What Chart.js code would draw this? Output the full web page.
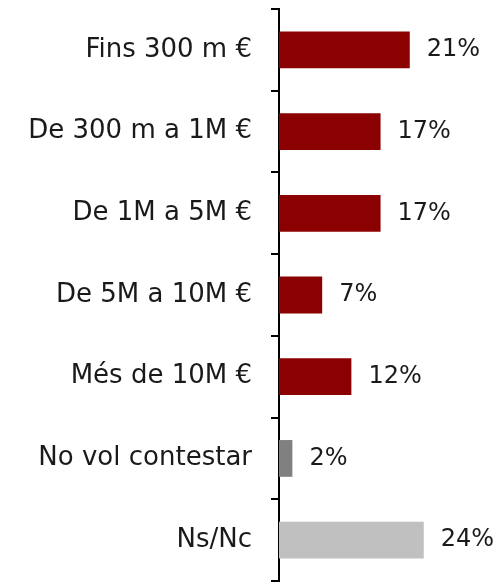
<!DOCTYPE html>
<html>
<head>
<meta charset="utf-8">
<script src="https://cdn.jsdelivr.net/npm/chart.js@4"></script>
<style>
  html, body { margin: 0; padding: 0; background: #fff; }
  #wrap { width: 501px; height: 582px; }
</style>
</head>
<body>
<div id="wrap"><canvas id="myChart"></canvas></div>
<script>
let categories = ['Fins 300 m €', 'De 300 m a 1M €', 'De 1M a 5M €', 'De 5M a 10M €', 'Més de 10M €', 'No vol contestar', 'Ns/Nc'];
let values = [21.5, 16.7, 16.7, 7.1, 11.9, 2.2, 23.8];
let valueLabels = ['21%', '17%', '17%', '7%', '12%', '2%', '24%'];

// draws the percentage text just right of each bar
const barLabels = {
  id: 'barLabels',
  afterDatasetsDraw(chart) {
    const ctx = chart.ctx;
    const meta = chart.getDatasetMeta(0);
    ctx.save();
    ctx.font = '24px "DejaVu Sans"';
    ctx.fillStyle = '#1a1a1a';
    ctx.textAlign = 'left';
    ctx.textBaseline = 'middle';
    meta.data.forEach((bar, i) => {
      ctx.fillText(valueLabels[i], bar.x + 17, bar.y);
    });
    ctx.restore();
  }
};

let chart = new Chart(document.getElementById('myChart'), {
  type: 'bar',
  data: {
    labels: categories,
    datasets: [{
      data: values,
      backgroundColor: ['#8b0000', '#8b0000', '#8b0000', '#8b0000', '#8b0000', '#808080', '#c0c0c0'],
      categoryPercentage: 1,
      barPercentage: 0.45
    }]
  },
  options: {
    indexAxis: 'y',
    responsive: true,
    maintainAspectRatio: false,
    animation: false,
    layout: { padding: { top: 9, bottom: 1, left: 0, right: 0 } },
    plugins: { legend: { display: false }, tooltip: { enabled: false } },
    scales: {
      x: { display: false, min: 0, max: 36.5 },
      y: {
        afterFit: scale => {
          scale.width = 279;
          scale.paddingTop = 0;
          scale.paddingBottom = 0;
        },
        border: { display: true, color: '#000', width: 2 },
        grid: { offset: true, drawOnChartArea: false, drawTicks: true, tickLength: 8, color: '#000', lineWidth: 2 },
        ticks: { color: '#1a1a1a', padding: 19, font: { family: '"DejaVu Sans"', size: 26 } }
      }
    }
  },
  plugins: [barLabels]
});
</script>
</body>
</html>
